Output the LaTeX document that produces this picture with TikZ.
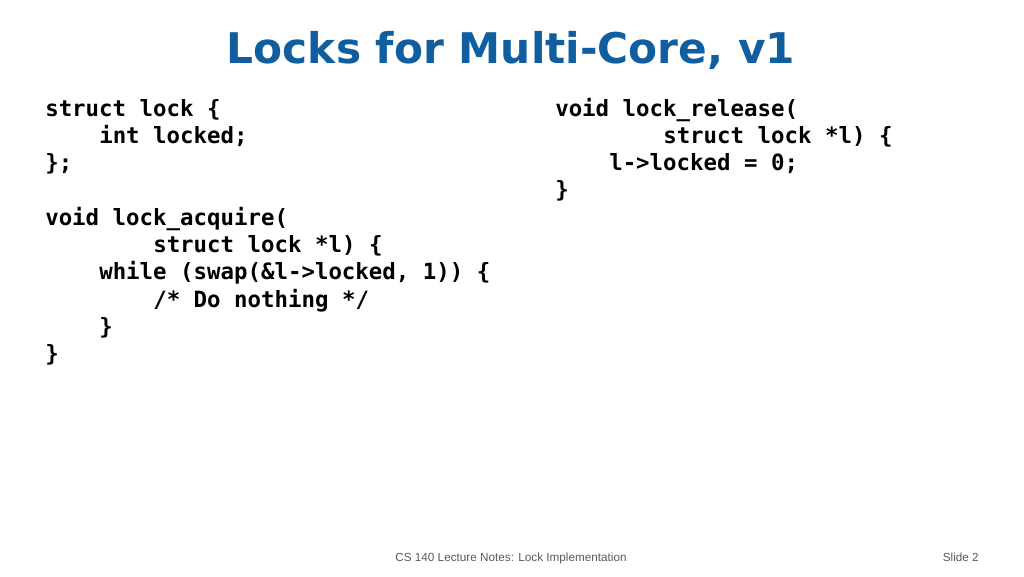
\documentclass[tikz,border=0pt]{standalone}
\usepackage{fontspec}
\setmainfont{Liberation Sans}
\newfontfamily\titlefont{DejaVu Sans}
\newfontfamily\codefont{DejaVu Sans Mono}
\definecolor{slideblue}{RGB}{16,94,160}
\definecolor{footgrey}{RGB}{89,89,89}

\begin{document}
\begin{tikzpicture}
  [x=0.75pt,y=-0.75pt,every node/.style={inner sep=0pt},
   code/.style={anchor=base west,font=\codefont\fontsize{16.8}{20}\selectfont\bfseries},
   foot/.style={anchor=base,text=footgrey,font=\fontsize{8.8}{10}\selectfont}]
  \useasboundingbox (0,0) rectangle (1024,576);

  \node[anchor=base,text=slideblue,font=\titlefont\fontsize{31.7}{36}\selectfont\bfseries]
    (title) at (511,63) {Locks for Multi-Core, v1};

  % left column
  \foreach \i/\lvl/\txt in {1/0/{struct lock \{},2/4/{int locked;},3/0/{\};},
      5/0/{void lock\_acquire(},6/8/{struct lock *l) \{},
      7/4/{while (swap(\&l->locked, 1)) \{},8/8/{/* Do nothing */},9/4/{\}},10/0/{\}}}
    \node[code] (acq\i) at (45+\lvl*13.5,88.7+\i*27.3) {\txt};

  % right column
  \foreach \i/\lvl/\txt in {1/0/{void lock\_release(},2/8/{struct lock *l) \{},
      3/4/{l->locked = 0;},4/0/{\}}}
    \node[code] (rel\i) at (555+\lvl*13.5,88.7+\i*27.3) {\txt};

  \node[foot] (notes) at (511,561) {CS 140 Lecture Notes: Lock Implementation};
  \node[foot,anchor=base east] (slideno) at (979,561) {Slide 2};

\end{tikzpicture}
\end{document}
